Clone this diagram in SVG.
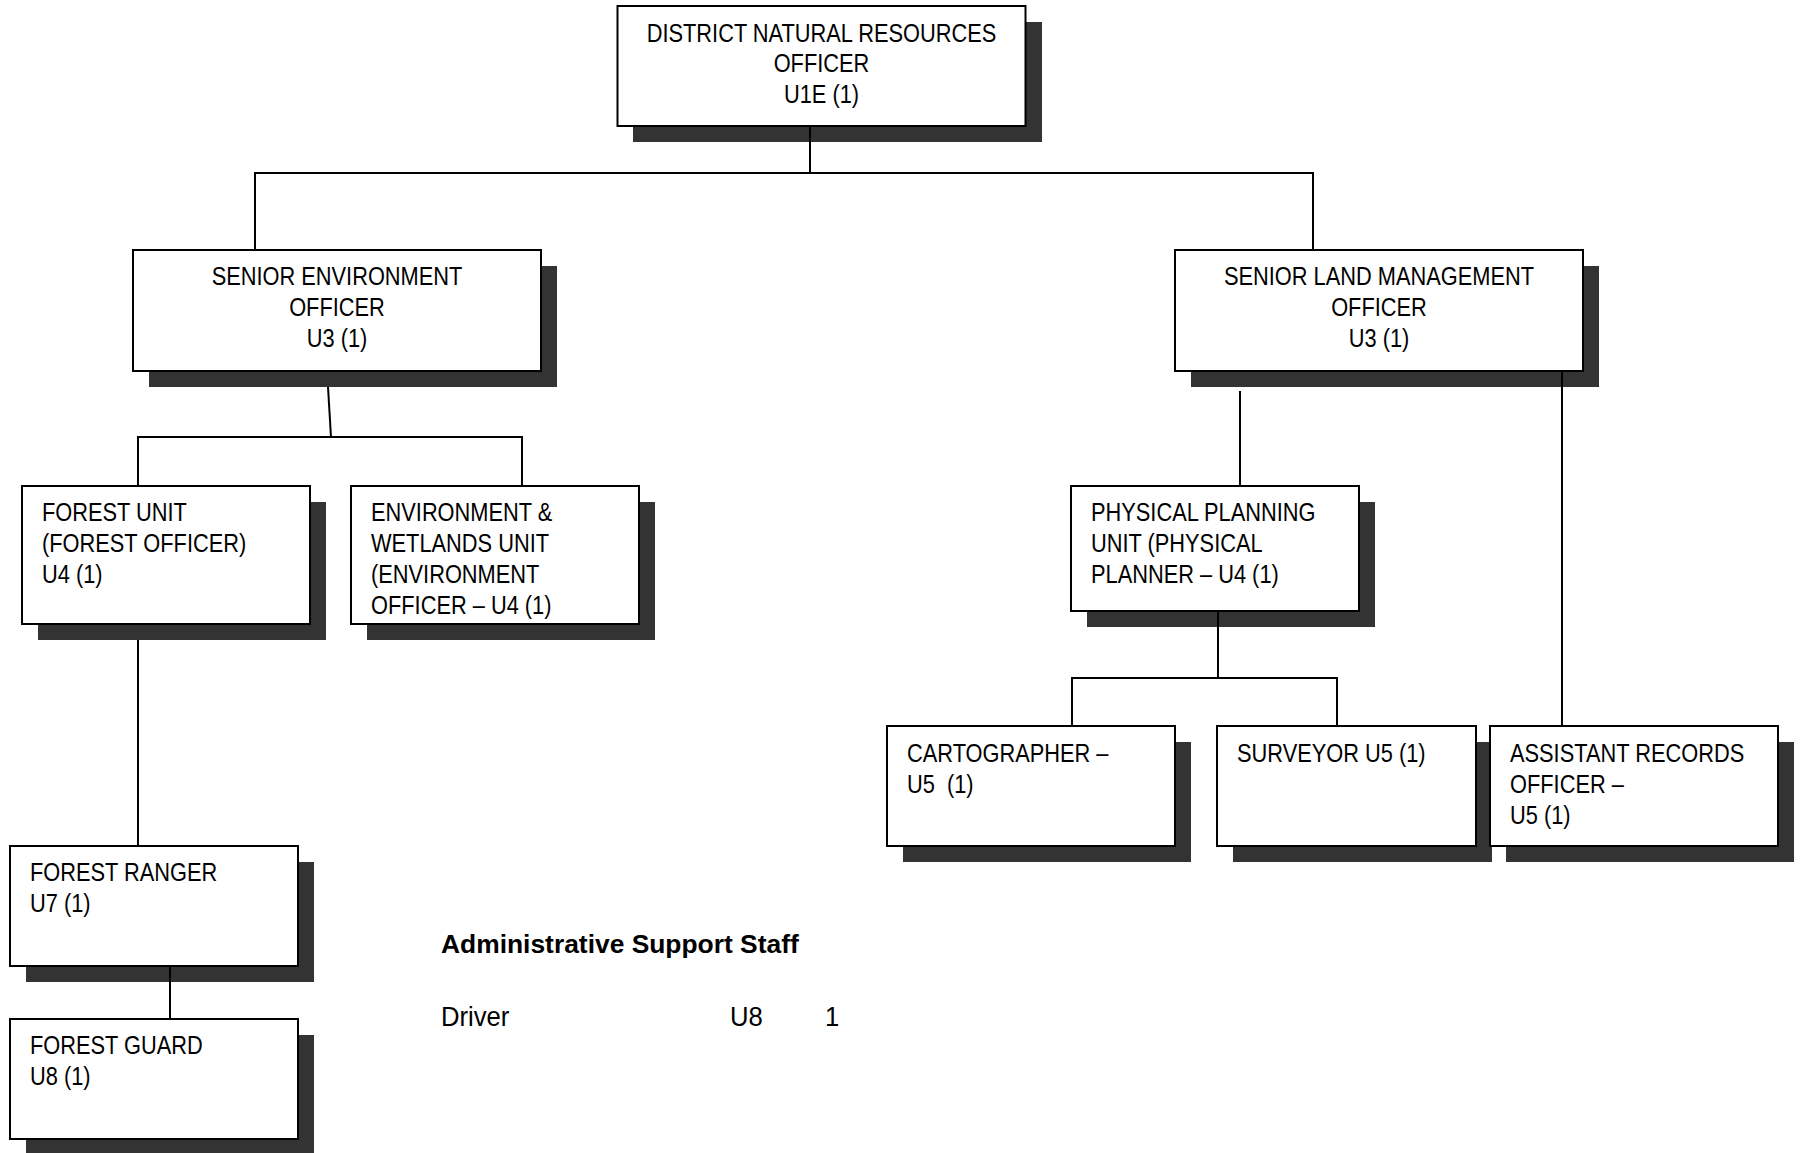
<svg xmlns="http://www.w3.org/2000/svg" width="1800" height="1153" viewBox="0 0 1800 1153">
<style>
.bg{fill:#ffffff}
.box{fill:#ffffff;stroke:#000000;stroke-width:2}
.sh{fill:#333333}
.t{font-family:"Liberation Sans",Arial,sans-serif;font-size:25.5px;fill:#000000}
.c{text-anchor:middle}
.b{font-family:"Liberation Sans",Arial,sans-serif;font-size:26.4px;font-weight:bold;fill:#000000}
.d{font-family:"Liberation Sans",Arial,sans-serif;font-size:28.5px;fill:#000000}
.ln{stroke:#000000;stroke-width:2;fill:none}
</style>
<rect class="bg" x="0" y="0" width="1800" height="1153"/>

<g id="dnro">
<rect class="sh" x="633" y="22" width="409" height="120"/>
<rect class="box" x="617.5" y="6" width="408" height="120"/>
<text class="t c" transform="translate(821.5,41.5) scale(0.855,1)"><tspan x="0" dy="0">DISTRICT NATURAL RESOURCES</tspan><tspan x="0" dy="31">OFFICER</tspan><tspan x="0" dy="31">U1E (1)</tspan></text>
</g>

<g id="seo">
<rect class="sh" x="149" y="266" width="408" height="121"/>
<rect class="box" x="133" y="250" width="408" height="121"/>
<text class="t c" transform="translate(337,285) scale(0.855,1)"><tspan x="0" dy="0">SENIOR ENVIRONMENT</tspan><tspan x="0" dy="31">OFFICER</tspan><tspan x="0" dy="31">U3 (1)</tspan></text>
</g>

<g id="slmo">
<rect class="sh" x="1191" y="266" width="408" height="121"/>
<rect class="box" x="1175" y="250" width="408" height="121"/>
<text class="t c" transform="translate(1379,285) scale(0.855,1)"><tspan x="0" dy="0">SENIOR LAND MANAGEMENT</tspan><tspan x="0" dy="31">OFFICER</tspan><tspan x="0" dy="31">U3 (1)</tspan></text>
</g>

<g id="forest-unit">
<rect class="sh" x="38" y="502" width="288" height="138"/>
<rect class="box" x="22" y="486" width="288" height="138"/>
<text class="t" transform="translate(42,521) scale(0.855,1)"><tspan x="0" dy="0">FOREST UNIT</tspan><tspan x="0" dy="31">(FOREST OFFICER)</tspan><tspan x="0" dy="31">U4 (1)</tspan></text>
</g>

<g id="env-wetlands">
<rect class="sh" x="367" y="502" width="288" height="138"/>
<rect class="box" x="351" y="486" width="288" height="138"/>
<text class="t" transform="translate(371,521) scale(0.855,1)"><tspan x="0" dy="0">ENVIRONMENT &amp;</tspan><tspan x="0" dy="31">WETLANDS UNIT</tspan><tspan x="0" dy="31">(ENVIRONMENT</tspan><tspan x="0" dy="31">OFFICER – U4 (1)</tspan></text>
</g>

<g id="physical-planning">
<rect class="sh" x="1087" y="502" width="288" height="125"/>
<rect class="box" x="1071" y="486" width="288" height="125"/>
<text class="t" transform="translate(1091,521) scale(0.855,1)"><tspan x="0" dy="0">PHYSICAL PLANNING</tspan><tspan x="0" dy="31">UNIT (PHYSICAL</tspan><tspan x="0" dy="31">PLANNER – U4 (1)</tspan></text>
</g>

<g id="cartographer">
<rect class="sh" x="903" y="742" width="288" height="120"/>
<rect class="box" x="887" y="726" width="288" height="120"/>
<text class="t" transform="translate(907,762) scale(0.855,1)" xml:space="preserve"><tspan x="0" dy="0">CARTOGRAPHER –</tspan><tspan x="0" dy="31">U5  (1)</tspan></text>
</g>

<g id="surveyor">
<rect class="sh" x="1233" y="742" width="259" height="120"/>
<rect class="box" x="1217" y="726" width="259" height="120"/>
<text class="t" transform="translate(1237,762) scale(0.855,1)">SURVEYOR U5 (1)</text>
</g>

<g id="assistant-records">
<rect class="sh" x="1506" y="742" width="288" height="120"/>
<rect class="box" x="1490" y="726" width="288" height="120"/>
<text class="t" transform="translate(1510,762) scale(0.855,1)"><tspan x="0" dy="0">ASSISTANT RECORDS</tspan><tspan x="0" dy="31">OFFICER –</tspan><tspan x="0" dy="31">U5 (1)</tspan></text>
</g>

<g id="forest-ranger">
<rect class="sh" x="26" y="862" width="288" height="120"/>
<rect class="box" x="10" y="846" width="288" height="120"/>
<text class="t" transform="translate(30,881) scale(0.855,1)"><tspan x="0" dy="0">FOREST RANGER</tspan><tspan x="0" dy="31">U7 (1)</tspan></text>
</g>

<g id="forest-guard">
<rect class="sh" x="26" y="1035" width="288" height="120"/>
<rect class="box" x="10" y="1019" width="288" height="120"/>
<text class="t" transform="translate(30,1054) scale(0.855,1)"><tspan x="0" dy="0">FOREST GUARD</tspan><tspan x="0" dy="31">U8 (1)</tspan></text>
</g>

<g id="connectors">
<line class="ln" x1="810" y1="126" x2="810" y2="173"/>
<line class="ln" x1="254" y1="173" x2="1314" y2="173"/>
<line class="ln" x1="255" y1="173" x2="255" y2="250"/>
<line class="ln" x1="1313" y1="173" x2="1313" y2="250"/>
<line class="ln" x1="328" y1="387" x2="331" y2="437"/>
<line class="ln" x1="137" y1="437" x2="523" y2="437"/>
<line class="ln" x1="138" y1="437" x2="138" y2="486"/>
<line class="ln" x1="522" y1="437" x2="522" y2="486"/>
<line class="ln" x1="138" y1="640" x2="138" y2="846"/>
<line class="ln" x1="170" y1="966" x2="170" y2="1019"/>
<line class="ln" x1="1240" y1="391" x2="1240" y2="486"/>
<line class="ln" x1="1562" y1="371" x2="1562" y2="726"/>
<line class="ln" x1="1218" y1="611" x2="1218" y2="678"/>
<line class="ln" x1="1071" y1="678" x2="1338" y2="678"/>
<line class="ln" x1="1072" y1="678" x2="1072" y2="726"/>
<line class="ln" x1="1337" y1="678" x2="1337" y2="726"/>
</g>

<g id="admin-staff">
<text class="b" x="441" y="953">Administrative Support Staff</text>
<text class="d" transform="translate(441,1026) scale(0.9,1)">Driver</text>
<text class="d" transform="translate(730,1026) scale(0.9,1)">U8</text>
<text class="d" transform="translate(825,1026) scale(0.9,1)">1</text>
</g>
</svg>
